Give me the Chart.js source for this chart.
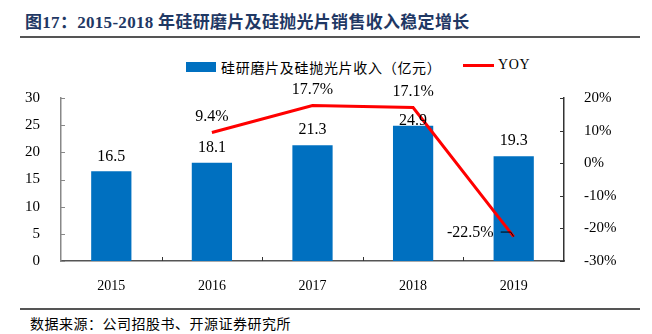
<!DOCTYPE html>
<html>
<head>
<meta charset="utf-8">
<script src="https://cdn.jsdelivr.net/npm/chart.js@4.4.0/dist/chart.umd.min.js"></script>
<style>
  body { margin: 0; width: 652px; height: 334px; background: #fff; position: relative; overflow: hidden;
         font-family: "Liberation Serif", "Noto Sans CJK SC", serif; }
  .title { position: absolute; left: 25px; top: 8px; font-size: 17px; font-weight: bold; color: #1f3864; white-space: nowrap; letter-spacing: 0.3px; }
  .rule { position: absolute; left: 20px; width: 620px; background: #555; }
  .legend { position: absolute; top: 57px; font-size: 14px; color: #000; display: flex; align-items: center; white-space: nowrap; letter-spacing: 0.7px; }
  .legend .box { width: 30px; height: 10px; background: #0070C0; margin-right: 5px; }
  .legend .ln { width: 31px; height: 3px; background: #FF0000; margin-right: 4px; }
  .source { position: absolute; left: 30px; top: 313px; font-size: 14px; color: #000; white-space: nowrap; letter-spacing: 0.5px; }
  #wrap { position: absolute; left: 0; top: 40px; width: 652px; height: 260px; }
</style>
</head>
<body>
<div class="title">图17：2015-2018 年硅研磨片及硅抛光片销售收入稳定增长</div>
<div class="rule" style="top:36px;height:2px;"></div>
<div class="legend" style="left:186px;"><span class="box"></span>硅研磨片及硅抛光片收入（亿元）</div>
<div class="legend" style="left:463px;"><span class="ln"></span>YOY</div>
<div id="wrap"><canvas id="chart"></canvas></div>
<div class="rule" style="top:308px;height:1.5px;"></div>
<div class="source">数据来源：公司招股书、开源证券研究所</div>

<script>
const years = ['2015', '2016', '2017', '2018', '2019'];
const revenue = [16.5, 18.1, 21.3, 24.9, 19.3];
const yoy = [null, 9.4, 17.7, 17.1, -22.5];
// label gap above bar top (2018 label sits close to the bar in the original)
const barLabelGap = [15, 15, 15, 5, 15];

const serif = '"Liberation Serif", "Times New Roman", serif';

// inward tick marks, like the excel original
const tickMarks = {
  id: 'tickMarks',
  afterDraw(chart) {
    const { ctx, scales } = chart;
    const { x, y, y1 } = scales;
    ctx.save();
    ctx.lineWidth = 1;
    ctx.strokeStyle = '#888';
    y.ticks.forEach((t, i) => {
      const py = Math.round(y.getPixelForTick(i)) + 0.5;
      ctx.beginPath(); ctx.moveTo(y.right, py); ctx.lineTo(y.right + 4, py); ctx.stroke();
    });
    ctx.strokeStyle = '#333';
    y1.ticks.forEach((t, i) => {
      const py = Math.round(y1.getPixelForTick(i)) + 0.5;
      ctx.beginPath(); ctx.moveTo(y1.left, py); ctx.lineTo(y1.left - 4, py); ctx.stroke();
    });
    for (let i = 1; i < years.length; i++) {
      const px = Math.round((x.getPixelForValue(i - 1) + x.getPixelForValue(i)) / 2) + 0.5;
      ctx.beginPath(); ctx.moveTo(px, x.top); ctx.lineTo(px, x.top - 4); ctx.stroke();
    }
    ctx.restore();
  }
};

const valueLabels = {
  id: 'valueLabels',
  afterDatasetsDraw(chart) {
    const ctx = chart.ctx;
    ctx.save();
    ctx.font = '16px ' + serif;
    ctx.fillStyle = '#000';
    ctx.textAlign = 'center';
    ctx.textBaseline = 'middle';
    chart.getDatasetMeta(0).data.forEach((bar, i) => {
      ctx.fillText(revenue[i].toFixed(1), bar.x, bar.y - barLabelGap[i]);
    });
    chart.getDatasetMeta(1).data.forEach((pt, i) => {
      if (yoy[i] == null) return;
      const txt = yoy[i].toFixed(1) + '%';
      if (yoy[i] < 0) {
        ctx.textAlign = 'right';
        ctx.fillText(txt, pt.x - 20, pt.y - 4);
        ctx.strokeStyle = '#000';
        ctx.lineWidth = 1;
        ctx.beginPath(); ctx.moveTo(pt.x - 13, pt.y - 4.5); ctx.lineTo(pt.x - 3, pt.y - 4.5); ctx.lineTo(pt.x, pt.y); ctx.stroke();
        ctx.textAlign = 'center';
      } else {
        ctx.fillText(txt, pt.x, pt.y - 16);
      }
    });
    ctx.restore();
  }
};

new Chart(document.getElementById('chart'), {
  type: 'bar',
  data: {
    labels: years,
    datasets: [
      {
        label: '硅研磨片及硅抛光片收入（亿元）',
        data: revenue,
        backgroundColor: '#0070C0',
        barPercentage: 0.4,
        categoryPercentage: 1,
        yAxisID: 'y',
        order: 1,
      },
      {
        type: 'line',
        label: 'YOY',
        data: yoy,
        borderColor: '#FF0000',
        borderWidth: 3,
        pointRadius: 0,
        tension: 0,
        yAxisID: 'y1',
        order: 0,
      },
    ],
  },
  plugins: [tickMarks, valueLabels],
  options: {
    responsive: true,
    maintainAspectRatio: false,
    animation: false,
    layout: { padding: { top: 58, left: 0, right: 0, bottom: 0 } },
    plugins: { legend: { display: false }, tooltip: { enabled: false } },
    scales: {
      x: {
        grid: { display: false },
        border: { color: '#555', width: 1.5 },
        ticks: { color: '#000', font: { family: serif, size: 14 }, padding: 9 },
        afterFit: s => { s.height = 39; },
      },
      y: {
        min: 0, max: 30,
        grid: { display: false },
        border: { color: '#888', width: 1.5 },
        ticks: { stepSize: 5, color: '#000', font: { family: serif, size: 15 }, padding: 13 },
        afterFit: s => { s.width = 61; },
      },
      y1: {
        position: 'right',
        min: -30, max: 20,
        grid: { display: false },
        border: { color: '#333', width: 1.5 },
        ticks: { stepSize: 10, color: '#000', font: { family: serif, size: 15 }, padding: 12,
                 callback: v => v + '%' },
        afterFit: s => { s.width = 88; },
      },
    },
  },
});
</script>
</body>
</html>
